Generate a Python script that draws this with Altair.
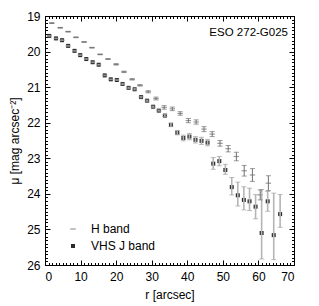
import altair as alt
import pandas as pd

W = 249
H = 249
FONT = "Liberation Sans"

# ---- data ----
J_r = [1.2, 3.1, 4.8, 6.5, 8.3, 9.9, 11.6, 13.4, 15.1, 16.8, 18.5, 20.2, 21.8, 23.5,
       25.2, 27.0, 28.7, 30.4, 32.0, 33.7, 35.4, 37.2, 38.9, 40.6, 42.3, 44.0, 45.7,
       47.3, 49.0, 50.7, 52.5, 54.2, 55.9, 57.5, 59.2, 60.9, 62.6, 64.3, 66.1]
J_mu = [19.56, 19.63, 19.68, 19.84, 19.98, 20.10, 20.21, 20.30, 20.37, 20.67, 20.78,
        20.80, 20.91, 21.02, 21.06, 21.28, 21.38, 21.55, 21.66, 21.80, 22.06, 22.28,
        22.43, 22.39, 22.48, 22.51, 22.56, 23.15, 23.08, 23.33, 23.81, 24.04, 24.17,
        24.21, 24.36, 25.10, 24.21, 25.16, 24.57]
J_err_up = [0.01] * 12 + [0.02] * 7 + [0.03, 0.05, 0.06, 0.08, 0.09, 0.09, 0.10, 0.09,
            0.17, 0.13, 0.16, 0.27, 0.37, 0.37, 0.37, 0.34, 1.22, 0.28, 1.18, 0.55]
J_err_dn = [0.01] * 12 + [0.02] * 7 + [0.03, 0.05, 0.06, 0.08, 0.09, 0.09, 0.10, 0.09,
            0.16, 0.13, 0.12, 0.22, 0.30, 0.28, 0.26, 0.34, 0.73, 0.28, 0.69, 0.37]

H_r = [1.9, 4.3, 6.5, 8.7, 11.0, 13.2, 15.5, 17.7, 20.0, 22.2, 24.5, 26.7, 29.0, 31.2,
       33.5, 35.8, 38.0, 40.3, 42.5, 44.7, 47.0, 49.2, 51.5, 53.8, 56.0, 58.3, 60.5, 62.8]
H_mu = [19.20, 19.33, 19.44, 19.60, 19.73, 19.89, 20.08, 20.21, 20.36, 20.57, 20.78,
        20.95, 21.13, 21.32, 21.57, 21.61, 21.74, 21.94, 21.98, 22.18, 22.32, 22.58,
        22.73, 22.95, 23.35, 23.47, 24.03, 23.70]
H_err = [0.01] * 8 + [0.02] * 4 + [0.03, 0.04, 0.05, 0.05, 0.05, 0.06, 0.06, 0.07,
         0.07, 0.08, 0.09, 0.12, 0.15, 0.18, 0.14, 0.21]

BANDS = ["H band", "VHS J band"]
X_MAJOR = [0, 10, 20, 30, 40, 50, 60, 70]
X_MINOR = list(range(0, 71))
Y_MAJOR = [19, 20, 21, 22, 23, 24, 25, 26]
Y_MINOR = [round(19 + 0.1 * i, 1) for i in range(71)]
LABEL = "ESO 272-G025"

# ---- tables ----
j_df = pd.DataFrame({"r": J_r, "mu": J_mu,
                     "lo": [m - u for m, u in zip(J_mu, J_err_up)],
                     "hi": [m + d for m, d in zip(J_mu, J_err_dn)]})
h_df = pd.DataFrame({"r": H_r, "mu": H_mu,
                     "lo": [m - e for m, e in zip(H_mu, H_err)],
                     "hi": [m + e for m, e in zip(H_mu, H_err)]})
pts = pd.concat([
    pd.DataFrame({"r": H_r, "mu": H_mu, "band": BANDS[0]}),
    pd.DataFrame({"r": J_r, "mu": J_mu, "band": BANDS[1]}),
], ignore_index=True)

xs = alt.Scale(domain=[0, 70], nice=False, zero=False)
ys = alt.Scale(domain=[19, 26], reverse=True, nice=False, zero=False)


def tick_axis(orient, values, size):
    return alt.Axis(orient=orient, offset=-W, values=values, tickSize=size,
                    labels=False, domain=False, title=None, ticks=True,
                    tickColor="black", tickWidth=1, grid=False)


# label axes
x_lab = alt.Axis(orient="bottom", values=X_MAJOR, ticks=False, domain=False,
                 labelFontSize=12, labelPadding=6, title="r [arcsec]",
                 titleFontSize=12, titleFontWeight="normal", titlePadding=7,
                 format="d", labelFont=FONT, titleFont=FONT)
y_lab = alt.Axis(orient="left", values=Y_MAJOR, ticks=False, domain=False,
                 labelFontSize=12, labelPadding=5, title="μ [mag arcsec⁻²]",
                 titleFontSize=12, titleFontWeight="normal", titlePadding=5,
                 format="d", labelFont=FONT, titleFont=FONT)

# error bars J
j_rule = alt.Chart(j_df).mark_rule(color="#b5b5b5", strokeWidth=1.6).encode(
    x=alt.X("r:Q", scale=xs, axis=tick_axis("top", X_MAJOR, 5)),
    y=alt.Y("lo:Q", scale=ys, axis=tick_axis("right", Y_MAJOR, 5)),
    y2="hi:Q")
j_cap_lo = alt.Chart(j_df).mark_tick(orient="horizontal", size=5, thickness=1,
                                     color="#a0a0a0").encode(
    x=alt.X("r:Q", scale=xs, axis=tick_axis("top", X_MINOR, 2.5)),
    y=alt.Y("lo:Q", scale=ys, axis=tick_axis("right", Y_MINOR, 2.5)))
j_cap_hi = alt.Chart(j_df).mark_tick(orient="horizontal", size=5, thickness=1,
                                     color="#a0a0a0").encode(
    x=alt.X("r:Q", scale=xs, axis=tick_axis("bottom", X_MAJOR, 5)),
    y=alt.Y("hi:Q", scale=ys, axis=tick_axis("left", Y_MAJOR, 5)))

# error bars H
h_rule = alt.Chart(h_df).mark_rule(color="#707070", strokeWidth=1).encode(
    x=alt.X("r:Q", scale=xs, axis=tick_axis("bottom", X_MINOR, 2.5)),
    y=alt.Y("lo:Q", scale=ys, axis=tick_axis("left", Y_MINOR, 2.5)),
    y2="hi:Q")
h_cap_lo = alt.Chart(h_df).mark_tick(orient="horizontal", size=5, thickness=1,
                                     color="#707070").encode(
    x=alt.X("r:Q", scale=xs, axis=None),
    y=alt.Y("lo:Q", scale=ys, axis=None))
h_cap_hi = alt.Chart(h_df).mark_tick(orient="horizontal", size=5, thickness=1,
                                     color="#707070").encode(
    x=alt.X("r:Q", scale=xs, axis=None),
    y=alt.Y("hi:Q", scale=ys, axis=None))

legend = alt.Legend(orient="none", legendX=22, legendY=207, title=None,
                    symbolSize=64, labelFontSize=12, labelOffset=12,
                    labelFont=FONT, rowPadding=5, symbolStrokeWidth=0,
                    labelColor="black")
points = alt.Chart(pts).mark_point(filled=True, opacity=1, strokeWidth=0).encode(
    x=alt.X("r:Q", scale=xs, axis=x_lab),
    y=alt.Y("mu:Q", scale=ys, axis=y_lab),
    color=alt.Color("band:N", scale=alt.Scale(domain=BANDS,
                                              range=["#9a9a9a", "#2b2b2b"]),
                    legend=legend),
    shape=alt.Shape("band:N", scale=alt.Scale(domain=BANDS,
                                              range=["M-1,-0.22H1V0.22H-1Z", "square"]),
                    legend=legend),
    size=alt.Size("band:N", scale=alt.Scale(domain=BANDS, range=[30, 16]),
                  legend=None))

label = alt.Chart(pd.DataFrame({"t": [LABEL]})).mark_text(
    align="right", baseline="middle", fontSize=11.5, font=FONT, color="black"
).encode(text="t:N", x=alt.value(243), y=alt.value(17))

chart = alt.layer(
    points, j_rule, j_cap_lo, j_cap_hi, h_rule, h_cap_lo, h_cap_hi, label
).resolve_scale(x="shared", y="shared").resolve_axis(
    x="independent", y="independent"
).properties(
    width=W, height=H,
    autosize=alt.AutoSizeParams(type="none"),
    padding={"left": 37, "top": 8, "right": 17, "bottom": 40},
).configure_view(stroke="black", strokeWidth=1).configure_axis(grid=False)

chart.save("out.html", embed_options={"renderer": "svg", "actions": False})
